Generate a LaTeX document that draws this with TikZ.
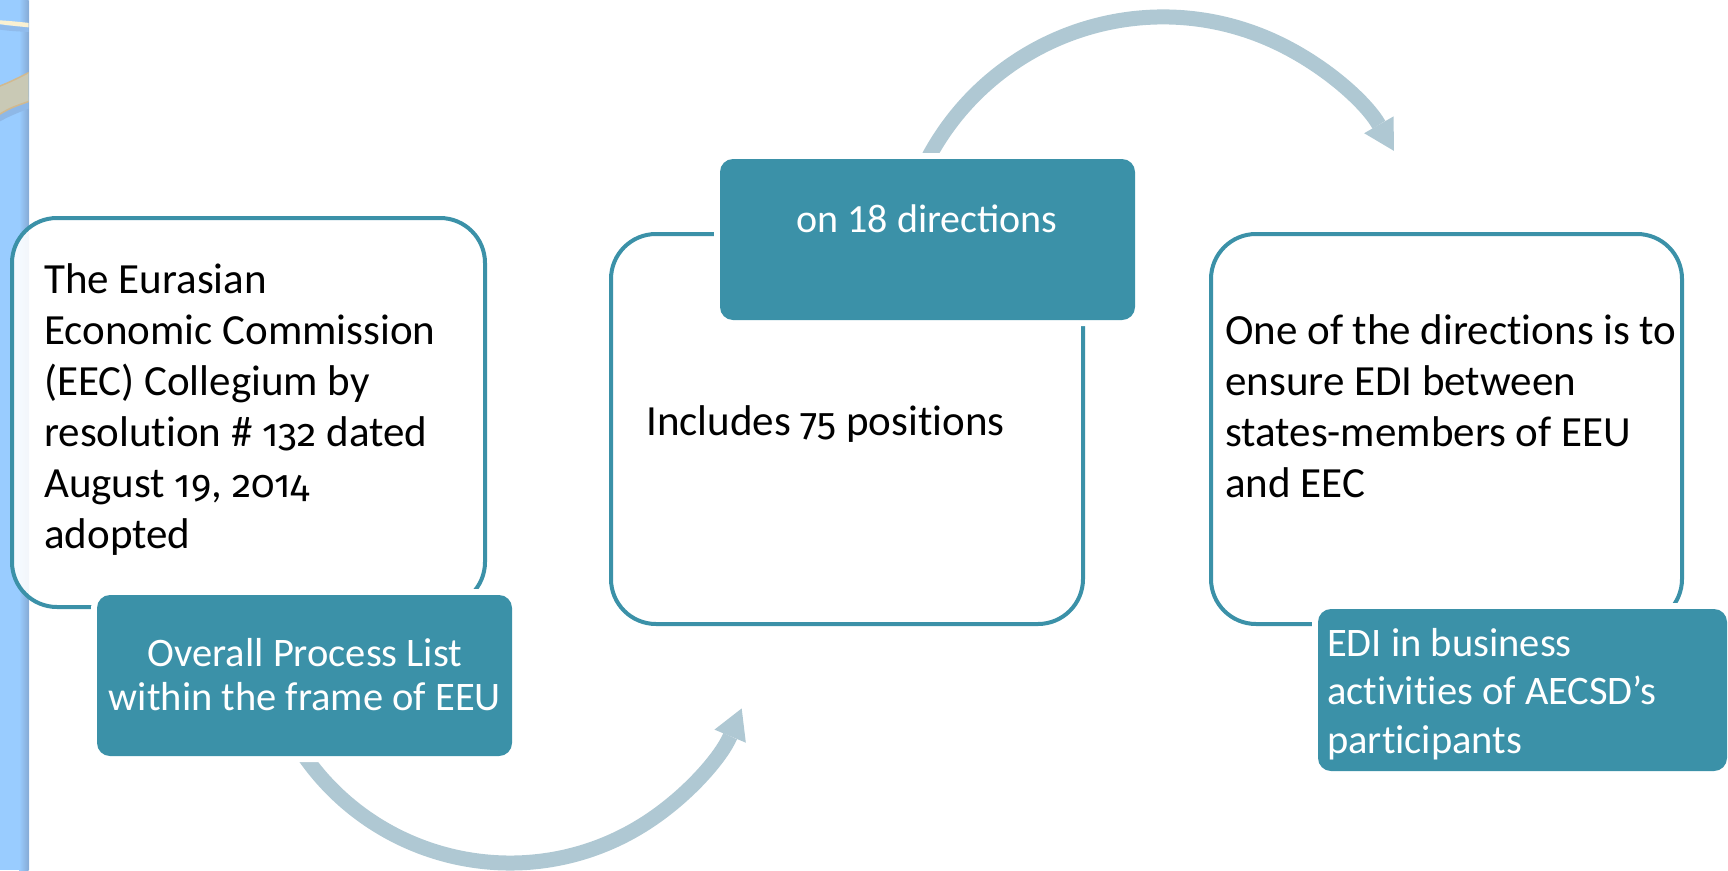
\documentclass[tikz,border=0pt]{standalone}
\usepackage{fontspec}
\setmainfont{Carlito}[Ligatures=NoCommon]
\newfontfamily\calib{Carlito}[Numbers=Lining]
\newfontfamily\oldfig{Fira Sans}[Numbers=OldStyle, Scale=0.9]
\newcommand\os[1]{{\oldfig #1}}
\usetikzlibrary{arrows.meta}
\definecolor{tealbox}{HTML}{3B91A8}
\definecolor{arrowc}{HTML}{AFC8D3}
\definecolor{stripblue}{HTML}{99CCFF}
\definecolor{stripdark}{HTML}{86ABD6}
\definecolor{cream}{HTML}{FAF1D2}
\definecolor{ribbon}{HTML}{C9C9B5}
\definecolor{ribbonedge}{HTML}{D2B98E}
\newcommand\txtL[1]{\vtop{\halign{##\hfil\cr#1\crcr}}}
\newcommand\txtC[1]{\vtop{\halign{\hfil##\hfil\cr#1\crcr}}}
\tikzset{
  outlinebox/.style={draw=tealbox, line width=4pt, rounded corners=45pt, fill=white, fill opacity=0.9, inner sep=0pt, minimum width=#1},
  tealrect/.style={fill=tealbox, rounded corners=13pt, inner sep=0pt, preaction={draw=white, line width=12pt}},
  bigtext/.style={inner sep=0pt, text=black, font=\fontsize{43}{51}\selectfont},
  tealtext/.style={inner sep=0pt, text=white},
  curvearrow/.style={draw=arrowc, line width=15pt, -{Triangle[width=34pt,length=30pt,line width=0pt]}}
}
\begin{document}
\begin{tikzpicture}[x=1pt,y=-1pt]
\useasboundingbox (0,0) rectangle (1728,870);
% left strip
\begin{scope}
\clip (0,0) rectangle (28.5,870);
\fill[stripblue] (0,0) rectangle (29,870);
\shade[left color=stripblue, right color=stripdark] (19,0) rectangle (28.5,870);
\fill[stripdark!50!stripblue] (-5,24) .. controls (10,26) .. (30,27) -- (30,32) .. controls (10,31) .. (-5,29) -- cycle;
\fill[stripdark!60!stripblue] (-5,108) .. controls (10,104) .. (30,96) -- (30,108) .. controls (10,116) .. (-5,124) -- cycle;
\fill[cream] (-5,20) .. controls (10,21) .. (30,23) -- (30,27.5) .. controls (10,25.5) .. (-5,23.5) -- cycle;
\filldraw[fill=ribbon, draw=ribbonedge, line width=1.5pt] (-5,88) .. controls (10,82) .. (30,72) -- (30,101) .. controls (10,108) .. (-5,117) -- cycle;
\end{scope}
\draw[color=white!85!stripblue, line width=1pt] (29,0) -- (29,870);
% arrows (circular arcs)
\coordinate (a1s) at (297.1,745);
\coordinate (a2s) at (920,174.8);
\draw[curvearrow] (a1s) arc[start angle=212, end angle=337.4, radius=251pt] coordinate (a1e);
\draw[curvearrow] (a2s) arc[start angle=156, end angle=29.8, radius=266pt] coordinate (a2e);
% outline boxes
\node[outlinebox=473pt, minimum height=389pt] (b1) at (248.5,412.5) {};
\node[outlinebox=472pt, minimum height=390pt] (b2) at (847,429) {};
\node[outlinebox=471pt, minimum height=390pt] (b3) at (1446.5,429) {};
% teal boxes
\node[tealrect, minimum width=415pt, minimum height=161pt] (t1) at (304.5,675.5) {};
\node[tealrect, minimum width=415pt, minimum height=161pt] (t2) at (927.5,239.5) {};
\node[tealrect, minimum width=409pt, minimum height=162pt] (t3) at (1522.5,690) {};
% texts
\node[bigtext, anchor=base west] (x1) at (44,293) {\txtL{The Eurasian\cr Economic Commission\cr (EEC) Collegium by\cr resolution \# \os{132} dated\cr August \os{19}, \os{2014}\cr adopted}};
\node[bigtext, anchor=base west] (x2) at (646,435) {Includes \os{75} positions};
\node[bigtext, anchor=base west] (x3) at (1225,344) {\txtL{One of the directions is to\cr ensure EDI between\cr states-members of EEU\cr and EEC}};
\node[tealtext, anchor=base, font=\fontsize{40.5}{44}\selectfont] (y1) at (305,666) {\txtC{Overall Process List\cr within the frame of EEU}};
\node[tealtext, anchor=base, font=\calib\fontsize{40}{48}\selectfont] (y2) at (927,232) {on 18 directions};
\node[tealtext, anchor=base west, font=\fontsize{40.5}{48.5}\selectfont] (y3) at (1327,656) {\txtL{EDI in business\cr activities of AECSD’s\cr participants}};
\end{tikzpicture}
\end{document}
